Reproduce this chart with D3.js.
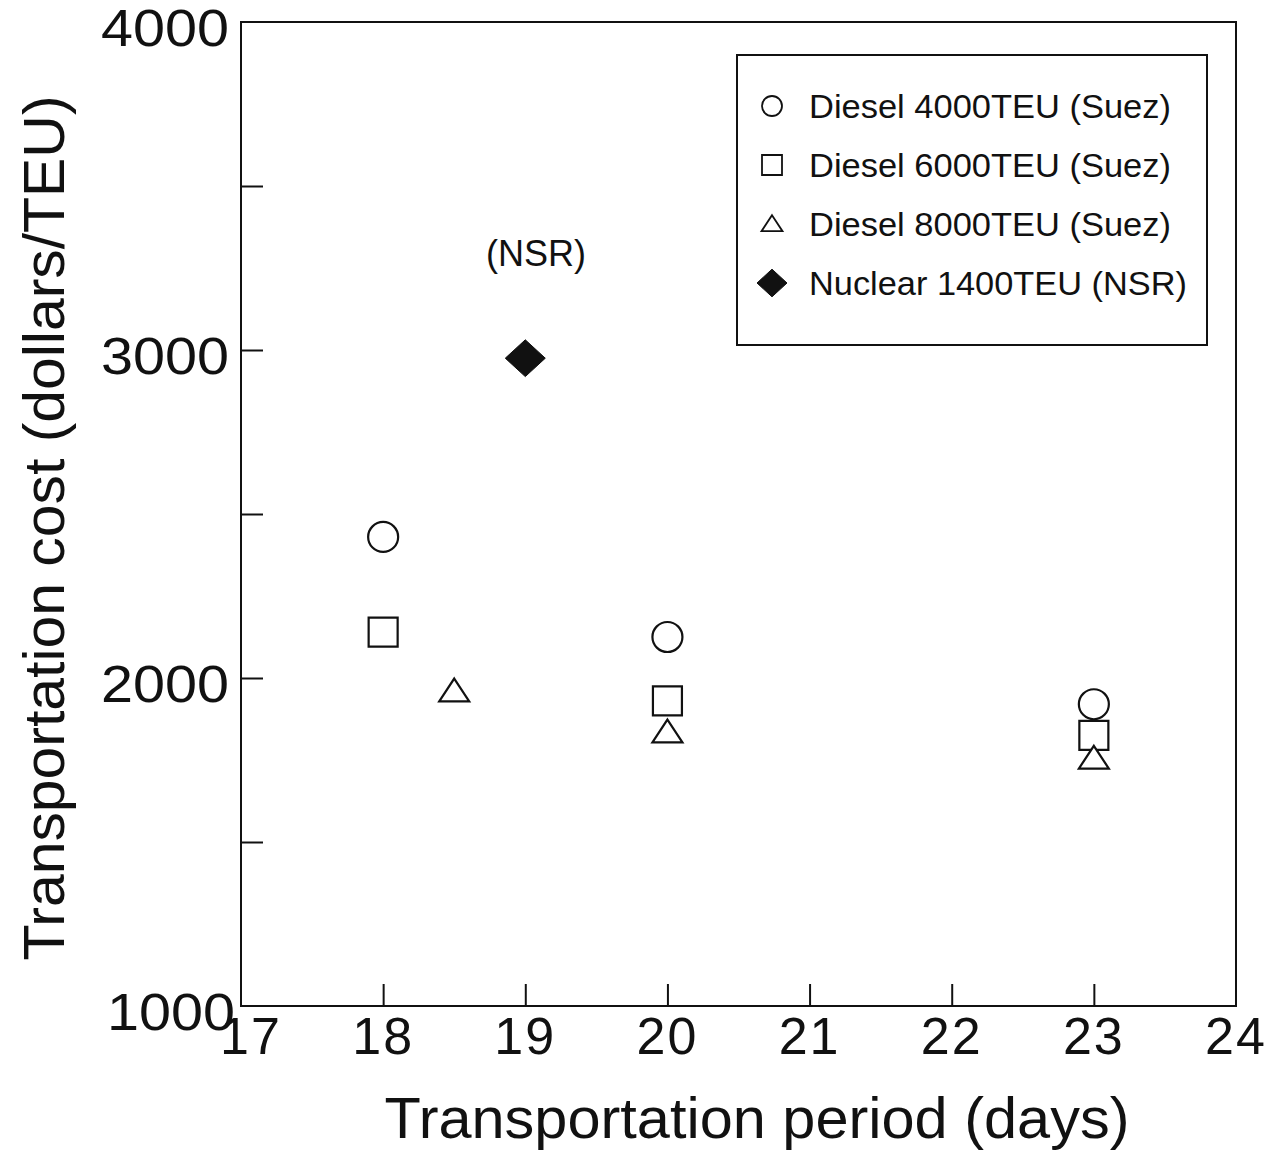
<!DOCTYPE html>
<html>
<head>
<meta charset="utf-8">
<script src="https://cdn.jsdelivr.net/npm/d3@7"></script>
<style>
  html, body { margin: 0; padding: 0; background: #fff; }
  svg { display: block; }
  text { font-family: "Liberation Sans", Arial, Helvetica, sans-serif; fill: #111; }
</style>
</head>
<body>
<svg id="chart" width="1285" height="1155"></svg>
<script>
// Transportation period (days) and cost (dollars/TEU) per ship type
const dieselDays = [18, 20, 23];
const diesel4000 = [2430, 2125, 1920];
const diesel6000 = [2140, 1930, 1825];
const diesel8000Days = [18.5, 20, 23];
const diesel8000 = [1960, 1835, 1755];
const nuclearDays = [19];
const nuclear1400 = [2975];

const xTicks = [17, 18, 19, 20, 21, 22, 23, 24];
const yTicks = [1000, 1500, 2000, 2500, 3000, 3500, 4000];
const yLabels = [1000, 2000, 3000, 4000];
const legendLabels = [
  "Diesel 4000TEU (Suez)",
  "Diesel 6000TEU (Suez)",
  "Diesel 8000TEU (Suez)",
  "Nuclear 1400TEU (NSR)"
];

const svg = d3.select("#chart");
const ink = "#111";

const plot = { left: 241, right: 1236, top: 22, bottom: 1006 };
const x = d3.scaleLinear().domain([17, 24]).range([plot.left, plot.right]);
const y = d3.scaleLinear().domain([1000, 4000]).range([plot.bottom, plot.top]);

// Marker shapes
const shapes = {
  circle: r => d3.symbol(d3.symbolCircle, Math.PI * r * r)(),
  square: s => d3.symbol(d3.symbolSquare, s * s)(),
  triangle: w => {
    const h = w * 0.76;
    return `M0,${-h * 0.55}L${w / 2},${h * 0.45}L${-w / 2},${h * 0.45}Z`;
  },
  diamond: w => {
    const hw = w / 2, hh = w * 0.46;
    return `M0,${-hh}L${hw},0L0,${hh}L${-hw},0Z`;
  }
};

// Frame
svg.append("rect")
  .attr("x", plot.left).attr("y", plot.top)
  .attr("width", plot.right - plot.left).attr("height", plot.bottom - plot.top)
  .attr("fill", "none").attr("stroke", ink).attr("stroke-width", 2);

// Inward ticks via d3 axes, labels drawn separately
const yAxis = svg.append("g")
  .attr("transform", `translate(${plot.left},0)`)
  .call(d3.axisRight(y).tickValues(yTicks.filter(v => v > 1000 && v < 4000)).tickSize(22).tickFormat(""));
yAxis.select(".domain").remove();
yAxis.selectAll("line").attr("stroke", ink).attr("stroke-width", 2);

const xAxis = svg.append("g")
  .attr("transform", `translate(0,${plot.bottom})`)
  .call(d3.axisTop(x).tickValues(xTicks.filter(v => v > 17 && v < 24)).tickSize(22).tickFormat(""));
xAxis.select(".domain").remove();
xAxis.selectAll("line").attr("stroke", ink).attr("stroke-width", 2);

// Tick labels
svg.append("g").selectAll("text").data(yLabels).join("text")
  .attr("x", d => plot.left - (d === 1000 ? 6 : 12))
  .attr("y", d => y(d) + 24)
  .attr("text-anchor", "end")
  .attr("font-size", 52)
  .attr("textLength", 128)
  .attr("lengthAdjust", "spacingAndGlyphs")
  .text(d => d);

svg.append("g").selectAll("text").data(xTicks).join("text")
  .attr("x", d => x(d) + (d === 17 ? 10 : 0))
  .attr("y", plot.bottom + 48)
  .attr("text-anchor", "middle")
  .attr("font-size", 52)
  .attr("letter-spacing", 2)
  .text(d => d);

// Axis titles
svg.append("text")
  .attr("x", 757).attr("y", 1138)
  .attr("text-anchor", "middle")
  .attr("font-size", 58)
  .attr("textLength", 745)
  .attr("lengthAdjust", "spacingAndGlyphs")
  .text("Transportation period (days)");

svg.append("text")
  .attr("transform", "translate(64,528) rotate(-90)")
  .attr("text-anchor", "middle")
  .attr("font-size", 58)
  .attr("textLength", 865)
  .attr("lengthAdjust", "spacingAndGlyphs")
  .text("Transportation cost (dollars/TEU)");

// Annotation
svg.append("text")
  .attr("x", 536).attr("y", 266)
  .attr("text-anchor", "middle")
  .attr("font-size", 36)
  .text("(NSR)");

// Data marks
const marks = svg.append("g");
function drawSeries(xs, ys, path, filled) {
  marks.append("g").selectAll("path").data(xs.map((d, i) => [d, ys[i]])).join("path")
    .attr("transform", d => `translate(${x(d[0])},${y(d[1])})`)
    .attr("d", path)
    .attr("fill", filled ? ink : "#fff")
    .attr("stroke", ink)
    .attr("stroke-width", filled ? 1 : 2.2);
}
drawSeries(dieselDays, diesel4000, shapes.circle(15), false);
drawSeries(dieselDays, diesel6000, shapes.square(29), false);
drawSeries(diesel8000Days, diesel8000, shapes.triangle(30), false);
drawSeries(nuclearDays, nuclear1400, shapes.diamond(40), true);

// Legend
const legend = svg.append("g");
legend.append("rect")
  .attr("x", 737).attr("y", 55).attr("width", 470).attr("height", 290)
  .attr("fill", "#fff").attr("stroke", ink).attr("stroke-width", 2);

const legendShapes = [
  { d: shapes.circle(10), filled: false },
  { d: shapes.square(20), filled: false },
  { d: shapes.triangle(21), filled: false },
  { d: shapes.diamond(30), filled: true }
];
const rows = legend.selectAll("g.row").data(legendLabels).join("g")
  .attr("class", "row")
  .attr("transform", (d, i) => `translate(0,${106 + i * 59})`);
rows.append("path")
  .attr("transform", "translate(772,0)")
  .attr("d", (d, i) => legendShapes[i].d)
  .attr("fill", (d, i) => legendShapes[i].filled ? ink : "#fff")
  .attr("stroke", ink)
  .attr("stroke-width", (d, i) => legendShapes[i].filled ? 1 : 1.8);
rows.append("text")
  .attr("x", 809).attr("y", 12)
  .attr("font-size", 33)
  .attr("textLength", (d, i) => i === 3 ? 378 : 362)
  .attr("lengthAdjust", "spacingAndGlyphs")
  .text(d => d);
</script>
</body>
</html>
